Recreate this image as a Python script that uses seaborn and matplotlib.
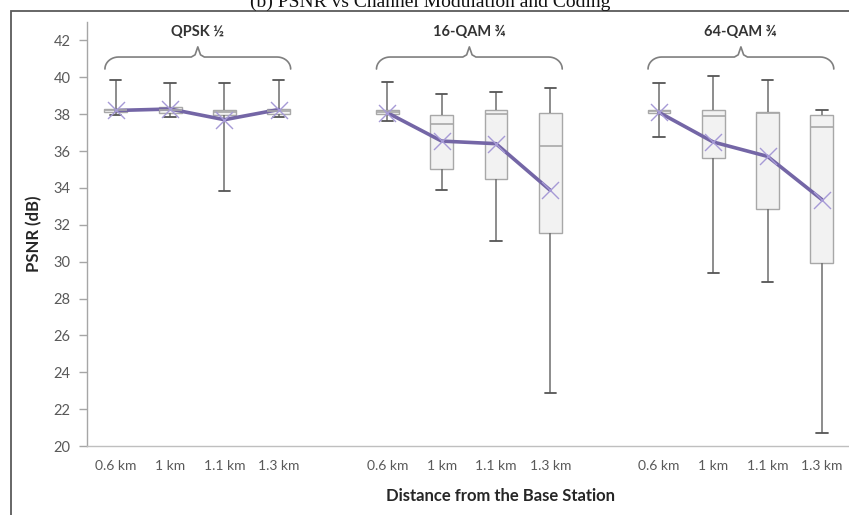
import numpy as np
import pandas as pd
import matplotlib
matplotlib.use("Agg")
import matplotlib.pyplot as plt
from matplotlib.patches import Rectangle
import seaborn as sns

# ---- values -------------------------------------------------------------
groups = ["QPSK ½", "16-QAM ¾", "64-QAM ¾"]
distances = ["0.6 km", "1 km", "1.1 km", "1.3 km"]
positions = [0, 1, 2, 3, 5, 6, 7, 8, 10, 11, 12, 13]

whisker_low = [37.95, 37.85, 33.85, 37.85,
               37.65, 33.87, 31.10, 22.90,
               36.76, 29.36, 28.87, 20.72]
quartile_1 = [38.10, 38.05, 37.98, 38.02,
              38.02, 35.00, 34.47, 31.56,
              38.05, 35.64, 32.84, 29.93]
median = [38.20, 38.22, 38.10, 38.18,
          38.12, 37.45, 38.00, 36.27,
          38.15, 37.88, 38.05, 37.30]
quartile_3 = [38.30, 38.38, 38.25, 38.30,
              38.25, 37.97, 38.25, 38.06,
              38.25, 38.20, 38.12, 37.97]
whisker_high = [39.83, 39.70, 39.70, 39.83,
                39.74, 39.07, 39.20, 39.44,
                39.69, 40.05, 39.83, 38.24]
mean = [38.20, 38.28, 37.70, 38.25,
        38.08, 36.54, 36.40, 33.87,
        38.10, 36.49, 35.71, 33.37]

# five-number summary of each box as long-form rows
rows = []
for i, p in enumerate(positions):
    for v in (whisker_low[i], quartile_1[i], median[i], quartile_3[i], whisker_high[i]):
        rows.append({"pos": p, "psnr": v})
box_df = pd.DataFrame(rows)

mean_df = pd.DataFrame({
    "pos": positions,
    "mean": mean,
    "group": [g for g in groups for _ in distances],
})

# ---- figure -------------------------------------------------------------
sns.set_theme(style="white")
plt.rcParams["font.family"] = ["Lato", "DejaVu Sans"]

W, H = 849, 515
fig = plt.figure(figsize=(W / 100, H / 100), dpi=100)
ax = fig.add_axes([87 / W, 1 - 446 / H, 1 - 87 / W, (446 - 22) / H])

sns.boxplot(
    data=box_df, x="pos", y="psnr", native_scale=True,
    whis=(0, 100), width=0.42, color="#f2f2f2", saturation=1,
    linecolor="#a8a8a8", linewidth=1.0, showfliers=False, ax=ax,
    whiskerprops={"color": "#6e6e6e", "linewidth": 1.1},
    capprops={"color": "#555555", "linewidth": 1.3},
    medianprops={"color": "#a8a8a8", "linewidth": 1.2},
)

# mean trend inside each modulation group
sns.lineplot(data=mean_df, x="pos", y="mean", units="group", estimator=None,
             color="#7466a6", linewidth=2.6, ax=ax, legend=False)
sns.scatterplot(data=mean_df, x="pos", y="mean", marker="x", s=150,
                color="#a69ad6", linewidth=1.0, ax=ax, legend=False, zorder=5)

ax.set_xlim(-0.53, 13.5)
ax.set_ylim(20, 43)
ax.set_yticks(np.arange(20, 43, 2))
ax.set_xticks(positions)
ax.set_xticklabels(distances * 3)

for s in ("top", "right"):
    ax.spines[s].set_visible(False)
ax.spines["left"].set_color("#a6a6a6")
ax.spines["bottom"].set_color("#bfbfbf")
ax.spines["left"].set_linewidth(1.0)
ax.spines["bottom"].set_linewidth(1.0)

ax.tick_params(axis="y", left=True, length=6, width=1, color="#a6a6a6",
               labelsize=10.5, labelcolor="#595959", pad=6)
ax.tick_params(axis="x", bottom=False, length=0, labelsize=10,
               labelcolor="#595959", pad=10)

ax.set_ylabel("PSNR (dB)", fontsize=12, fontweight="bold", color="#262626",
              labelpad=8)
ax.set_xlabel("Distance from the Base Station", fontsize=12,
              fontweight="bold", color="#262626")
ax.xaxis.set_label_coords((500 - 87) / (W - 87), -0.098)

# curly braces with group names
def brace(x0, x1, y_line, y_end, y_tip):
    xm = (x0 + x1) / 2
    r = 0.25
    xs = np.concatenate([
        x0 + r * (1 - np.cos(np.linspace(0, np.pi / 2, 12))),
        [xm - 0.12],
    ])
    ys = np.concatenate([
        y_end + (y_line - y_end) * np.sin(np.linspace(0, np.pi / 2, 12)),
        [y_line],
    ])
    left_x = np.concatenate([xs, [xm - 0.05, xm]])
    left_y = np.concatenate([ys, [y_line + 0.12, y_tip]])
    right_x = (2 * xm - left_x)[::-1]
    right_y = left_y[::-1]
    ax.plot(np.concatenate([left_x, right_x]), np.concatenate([left_y, right_y]),
            color="#7f7f7f", linewidth=1.2, clip_on=False)

for gi, g in enumerate(groups):
    p0 = positions[gi * 4]
    p1 = positions[gi * 4 + 3]
    brace(p0 - 0.2, p1 + 0.22, 41.1, 40.45, 41.65)
    ax.text((p0 + p1) / 2, 42.45, g, ha="center", va="center", fontsize=10.5,
            fontweight="bold", color="#333333")

# outer frame and page heading
fig.patches.append(Rectangle((11 / W, -0.1), 1.2, 1 - 11 / H + 0.1,
                             transform=fig.transFigure, fill=False,
                             edgecolor="#5a5a5a", linewidth=1.3))
fig.text(430 / W, 1 - 7 / H, "(b) PSNR vs Channel Modulation and Coding",
         ha="center", va="baseline", fontsize=14,
         family=["Liberation Serif", "DejaVu Serif"], color="#111111")

fig.savefig("out.png", dpi=100)
